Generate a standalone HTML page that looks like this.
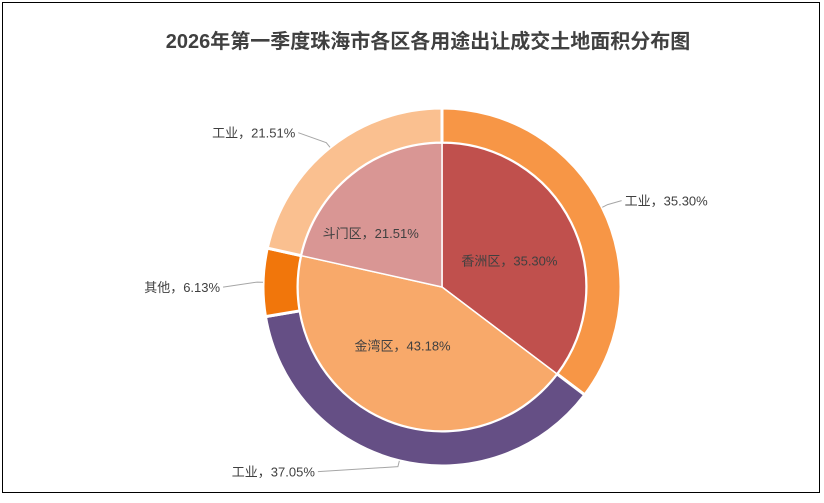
<!DOCTYPE html>
<html><head><meta charset="utf-8"><style>
body{margin:0;background:#fff;}
svg text{font-family:"Liberation Sans","Noto Sans CJK SC",sans-serif;}
</style></head><body>
<svg id="chart" width="824" height="498">
<rect x="2.5" y="2.5" width="817" height="490" fill="#fff" stroke="#000" stroke-width="1"/>
<text x="428" y="48" text-anchor="middle" font-size="20" font-weight="bold" fill="#404040">2026年第一季度珠海市各区各用途出让成交土地面积分布图</text>
<g id="outer"></g><g id="inner"></g><g id="labels"></g>
</svg>
<script>
const innerNames=["香洲区","金湾区","斗门区"];
const innerValues=[35.30,43.18,21.51];
const outerNames=["工业","工业","其他","工业"];
const outerValues=[35.30,37.05,6.13,21.51];
const innerColors=["#C0504D","#F8A96A","#D99694"];
const outerColors=["#F79646","#654F85","#F1760B","#FAC090"];
const extLen=[14,80,34,28];
const innerNudge=[[-6,10],[-5,-16],[-20,10]];
const cx=442,cy=287,rIn=144,rOut=179;
const NS="http://www.w3.org/2000/svg";
function pt(a,r){return [cx+r*Math.sin(a),cy-r*Math.cos(a)];}
function wedge(a0,a1,r0,r1){
  const L=(a1-a0)>Math.PI?1:0;
  const [x0,y0]=pt(a0,r1),[x1,y1]=pt(a1,r1);
  if(r0===0)return `M${cx},${cy}L${x0},${y0}A${r1},${r1} 0 ${L} 1 ${x1},${y1}Z`;
  const [x2,y2]=pt(a1,r0),[x3,y3]=pt(a0,r0);
  return `M${x0},${y0}A${r1},${r1} 0 ${L} 1 ${x1},${y1}L${x2},${y2}A${r0},${r0} 0 ${L} 0 ${x3},${y3}Z`;
}
function mk(tag,attrs,parent){const e=document.createElementNS(NS,tag);for(const k in attrs)e.setAttribute(k,attrs[k]);parent.appendChild(e);return e;}
const og=document.getElementById('outer'),ig=document.getElementById('inner'),lg=document.getElementById('labels');
let tot=outerValues.reduce((a,b)=>a+b,0),acc=0;
outerValues.forEach((v,i)=>{
  const a0=acc/tot*2*Math.PI;acc+=v;const a1=acc/tot*2*Math.PI;
  const p=mk('path',{d:wedge(a0,a1,rIn,rOut),fill:outerColors[i],stroke:'#fff','stroke-width':3},og);
  
  
  const am=(a0+a1)/2;const [px,py]=pt(am,rOut);
  const right=Math.sin(am)>0;
  const [qx,qy]=pt(am,rOut+6);
  const ex=right?qx+extLen[i]:qx-extLen[i];
  const ey=qy+(Math.cos(am)<-0.5?5:(Math.cos(am)>0.5?-10:(right?-4:5)));
  const l=mk('polyline',{points:`${px},${py} ${qx},${qy} ${ex},${ey}`,fill:'none',stroke:'#A6A6A6','stroke-width':1},lg);
  
  
  const t=mk('text',{x:right?ex+3:ex-3,y:ey+5,'font-size':13,fill:'#404040','text-anchor':right?'start':'end'},lg);
  t.textContent=outerNames[i]+'，'+v.toFixed(2)+'%';
  
  
});
tot=innerValues.reduce((a,b)=>a+b,0);acc=0;
innerValues.forEach((v,i)=>{
  const a0=acc/tot*2*Math.PI;acc+=v;const a1=acc/tot*2*Math.PI;
  const p=mk('path',{d:wedge(a0,a1,0,rIn),fill:innerColors[i],stroke:'#fff','stroke-width':1.5},ig);
  
  
  const am=(a0+a1)/2;const [tx,ty]=pt(am,82);
  const t=mk('text',{x:tx+innerNudge[i][0],y:ty+5+innerNudge[i][1],'font-size':13,fill:'#404040','text-anchor':'middle'},lg);
  t.textContent=innerNames[i]+'，'+v.toFixed(2)+'%';
  
  
});
</script>
</body></html>
